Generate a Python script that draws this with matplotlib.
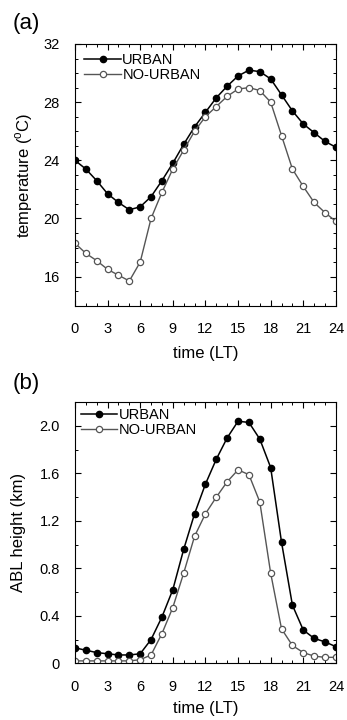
import numpy as np
import matplotlib
matplotlib.use("Agg")
import matplotlib.pyplot as plt
from matplotlib.ticker import MultipleLocator

plt.rcParams['font.family'] = ['Liberation Sans', 'DejaVu Sans']
plt.rcParams['mathtext.fontset'] = 'custom'
plt.rcParams['mathtext.rm'] = 'Liberation Sans'

hours = np.arange(0, 25)

t_urban = [24.0, 23.4, 22.6, 21.7, 21.1, 20.6, 20.8, 21.5, 22.6, 23.8, 25.1, 26.3, 27.3,
           28.3, 29.1, 29.8, 30.2, 30.1, 29.6, 28.5, 27.4, 26.5, 25.9, 25.3, 24.9]
t_nourban = [18.3, 17.6, 17.1, 16.5, 16.1, 15.7, 17.0, 20.0, 21.8, 23.4, 24.7, 26.0, 27.0,
             27.7, 28.4, 28.9, 29.0, 28.8, 28.0, 25.7, 23.4, 22.2, 21.1, 20.4, 19.8]

abl_urban = [0.13, 0.11, 0.09, 0.08, 0.07, 0.07, 0.08, 0.20, 0.39, 0.62, 0.96, 1.26, 1.51,
             1.72, 1.90, 2.04, 2.03, 1.89, 1.65, 1.02, 0.49, 0.28, 0.21, 0.18, 0.14]
abl_nourban = [0.02, 0.02, 0.02, 0.02, 0.02, 0.02, 0.03, 0.07, 0.25, 0.47, 0.76, 1.07, 1.26,
               1.40, 1.53, 1.63, 1.59, 1.36, 0.76, 0.29, 0.15, 0.09, 0.06, 0.05, 0.05]

fig = plt.figure(figsize=(3.47, 7.2), dpi=100)
ax1 = fig.add_axes([0.216, 0.5754, 0.752, 0.3635])
ax2 = fig.add_axes([0.216, 0.0788, 0.752, 0.3625])


def style(ax, urb, nourb, legpad):
    ax.plot(hours, urb, color="black", lw=1.1, marker="o", ms=4.5,
            mfc="black", mec="black", label="URBAN")
    ax.plot(hours, nourb, color="#555555", lw=1.0, marker="o", ms=4.5,
            mfc="white", mec="#555555", mew=0.9, label="NO-URBAN")
    ax.set_xlim(0, 24)
    ax.xaxis.set_major_locator(MultipleLocator(3))
    ax.xaxis.set_minor_locator(MultipleLocator(1))
    ax.tick_params(which="both", direction="in", top=True, right=True, labelsize=10.5)
    ax.tick_params(which="major", length=4, width=0.8)
    ax.tick_params(axis="x", which="major", pad=12)
    ax.tick_params(axis="y", which="major", pad=11)
    ax.tick_params(which="minor", length=2, width=0.7)
    ax.legend(loc="upper left", frameon=False, fontsize=10.5, handlelength=2.5,
              handletextpad=0.1, labelspacing=0.05, borderaxespad=legpad,
              borderpad=0.2)


style(ax1, t_urban, t_nourban, 0.45)
ax1.set_ylim(14, 32)
ax1.yaxis.set_major_locator(MultipleLocator(4))
ax1.yaxis.set_minor_locator(MultipleLocator(1))
ax1.set_ylabel(r"temperature ($^\mathrm{o}$C)", fontsize=12, va="center")
ax1.yaxis.set_label_coords(-0.195, 0.5)
ax1.set_xlabel("time (LT)", fontsize=12, va="center")
ax1.xaxis.set_label_coords(0.5, -0.183)

style(ax2, abl_urban, abl_nourban, 0.2)
ax2.set_ylim(0, 2.2)
ax2.yaxis.set_minor_locator(MultipleLocator(0.2))
ax2.set_yticks([0, 0.4, 0.8, 1.2, 1.6, 2.0])
ax2.set_yticklabels(["0", "0.4", "0.8", "1.2", "1.6", "2.0"])
ax2.set_ylabel("ABL height (km)", fontsize=12, va="center")
ax2.yaxis.set_label_coords(-0.216, 0.5)
ax2.set_xlabel("time (LT)", fontsize=12, va="center")
ax2.xaxis.set_label_coords(0.5, -0.175)

fig.text(0.037, 0.968, "(a)", fontsize=16, va="center", ha="left")
fig.text(0.037, 0.468, "(b)", fontsize=16, va="center", ha="left")

fig.savefig("out.png", dpi=100)
